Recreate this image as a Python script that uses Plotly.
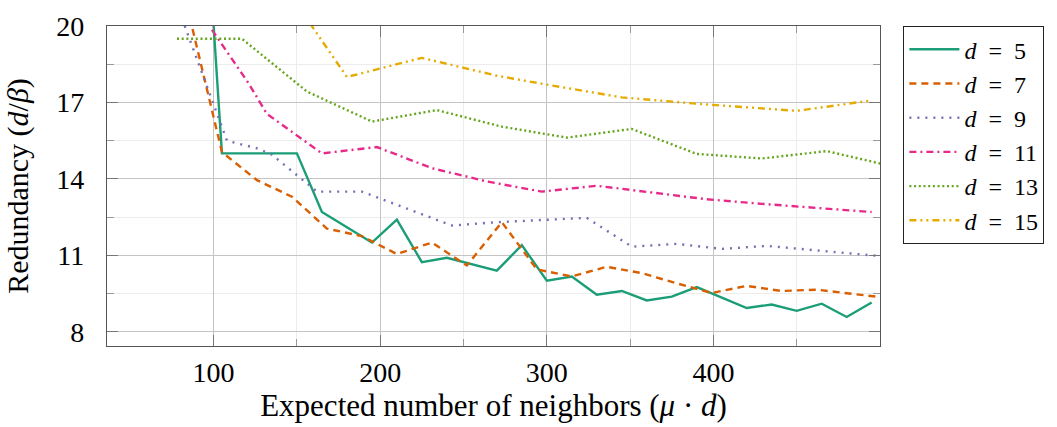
import plotly.graph_objects as go

# ---- data ----
labels = ["5", "7", "9", "11", "13", "15"]
x5 = [100, 105, 150, 165, 195, 210, 225, 240, 270, 285, 300, 315, 330, 345, 360, 375, 390, 420, 435, 450, 465, 480, 495]
y5 = [20.0, 15.0, 15.0, 12.7, 11.5, 12.4, 10.73, 10.9, 10.4, 11.4, 10.0, 10.17, 9.45, 9.6, 9.23, 9.38, 9.75, 8.93, 9.07, 8.82, 9.1, 8.58, 9.15]
x7 = [84, 105, 126, 147, 168, 189, 210, 231, 252, 273, 294, 315, 336, 357, 378, 399, 420, 441, 462, 483, 504]
y7 = [20.8, 15.05, 13.95, 13.3, 12.05, 11.75, 11.05, 11.5, 10.6, 12.3, 10.45, 10.17, 10.55, 10.3, 9.9, 9.52, 9.8, 9.6, 9.65, 9.5, 9.33]
x9 = [81, 99, 108, 126, 135, 162, 189, 243, 270, 324, 351, 378, 405, 432, 459, 486, 504]
y9 = [20.3, 17.05, 15.5, 15.2, 14.95, 13.5, 13.5, 12.17, 12.3, 12.47, 11.34, 11.45, 11.25, 11.37, 11.2, 11.05, 10.95]
x11 = [99, 121, 132, 165, 198, 231, 264, 297, 330, 396, 429, 462, 495]
y11 = [19.85, 17.75, 16.55, 15.0, 15.25, 14.42, 13.9, 13.5, 13.73, 13.2, 13.02, 12.85, 12.7]
x13 = [78, 117, 156, 195, 234, 273, 312, 351, 390, 429, 468, 507]
y13 = [19.5, 19.5, 17.43, 16.25, 16.7, 16.05, 15.62, 15.96, 14.98, 14.8, 15.09, 14.5]
x15 = [150, 180, 225, 270, 300, 345, 390, 450, 495]
y15 = [20.85, 18.0, 18.75, 18.05, 17.7, 17.2, 16.95, 16.67, 17.08]

xs = [x5, x7, x9, x11, x13, x15]
ys = [y5, y7, y9, y11, y13, y15]
y_ticks = [8, 11, 14, 17, 20]
y_minor = [9.5, 12.5, 15.5, 18.5]
x_ticks = [100, 200, 300, 400]
x_minor = [150, 250, 350, 450]

# ---- styles ----
colors = ["#1b9e77", "#d95f02", "#7570b3", "#e7298a", "#66a61e", "#e6ab02"]
dashes = ["solid", "7px,5px", "2px,6px", "7px,4px,2px,4px", "2px,2.7px",
          "7px,4px,2px,4px,2px,4px"]

FONT = "Liberation Serif"
SP = "&#160;&#160;"

fig = go.Figure()
for lab, x, y, c, d in zip(labels, xs, ys, colors, dashes):
    fig.add_trace(go.Scatter(
        x=x, y=y, mode="lines",
        name=f"<i>d</i>{SP}={SP}{lab}",
        legendgroup=lab,
        line=dict(color=c, width=2.4, dash=d),
    ))

axis_common = dict(
    showline=True, linecolor="#555", linewidth=1.2, mirror="allticks",
    ticks="inside", tickcolor="#777", tickwidth=1.2, ticklen=11,
    showgrid=True, gridcolor="#c4c4c4", gridwidth=1,
    zeroline=False, ticklabeloverflow="allow",
    tickfont=dict(family=FONT, size=28, color="black"),
)

fig.update_xaxes(
    range=[36, 500], tickvals=x_ticks,
    minor=dict(tickmode="array", tickvals=x_minor, ticks="inside", ticklen=7,
               tickcolor="#999", showgrid=True, gridcolor="#ececec"),
    ticklabelstandoff=1,
    title=dict(text="Expected number of neighbors (<i>μ</i> · <i>d</i>)",
               font=dict(family=FONT, size=31, color="black"), standoff=6),
    **axis_common,
)
fig.update_yaxes(
    range=[7.44, 20.001], tickvals=y_ticks,
    minor=dict(tickmode="array", tickvals=y_minor, ticks="inside", ticklen=7,
               tickcolor="#999", showgrid=True, gridcolor="#ececec"),
    ticklabelstandoff=16,
    title=dict(text="Redundancy (<i>d</i>/<i>β</i>)",
               font=dict(family=FONT, size=30, color="black"), standoff=18),
    **axis_common,
)

fig.update_layout(
    width=1057, height=427,
    margin=dict(l=107, r=177, t=11, b=81),
    paper_bgcolor="white", plot_bgcolor="white",
    font=dict(family=FONT, size=28, color="black"),
    showlegend=True,
    legend=dict(
        x=1.03, y=1.0, xanchor="left", yanchor="top",
        bordercolor="#222", borderwidth=1.2, bgcolor="white",
        font=dict(family=FONT, size=24, color="black"),
        tracegroupgap=0,
        itemwidth=50,
    ),
)

fig.write_html("out.html")
